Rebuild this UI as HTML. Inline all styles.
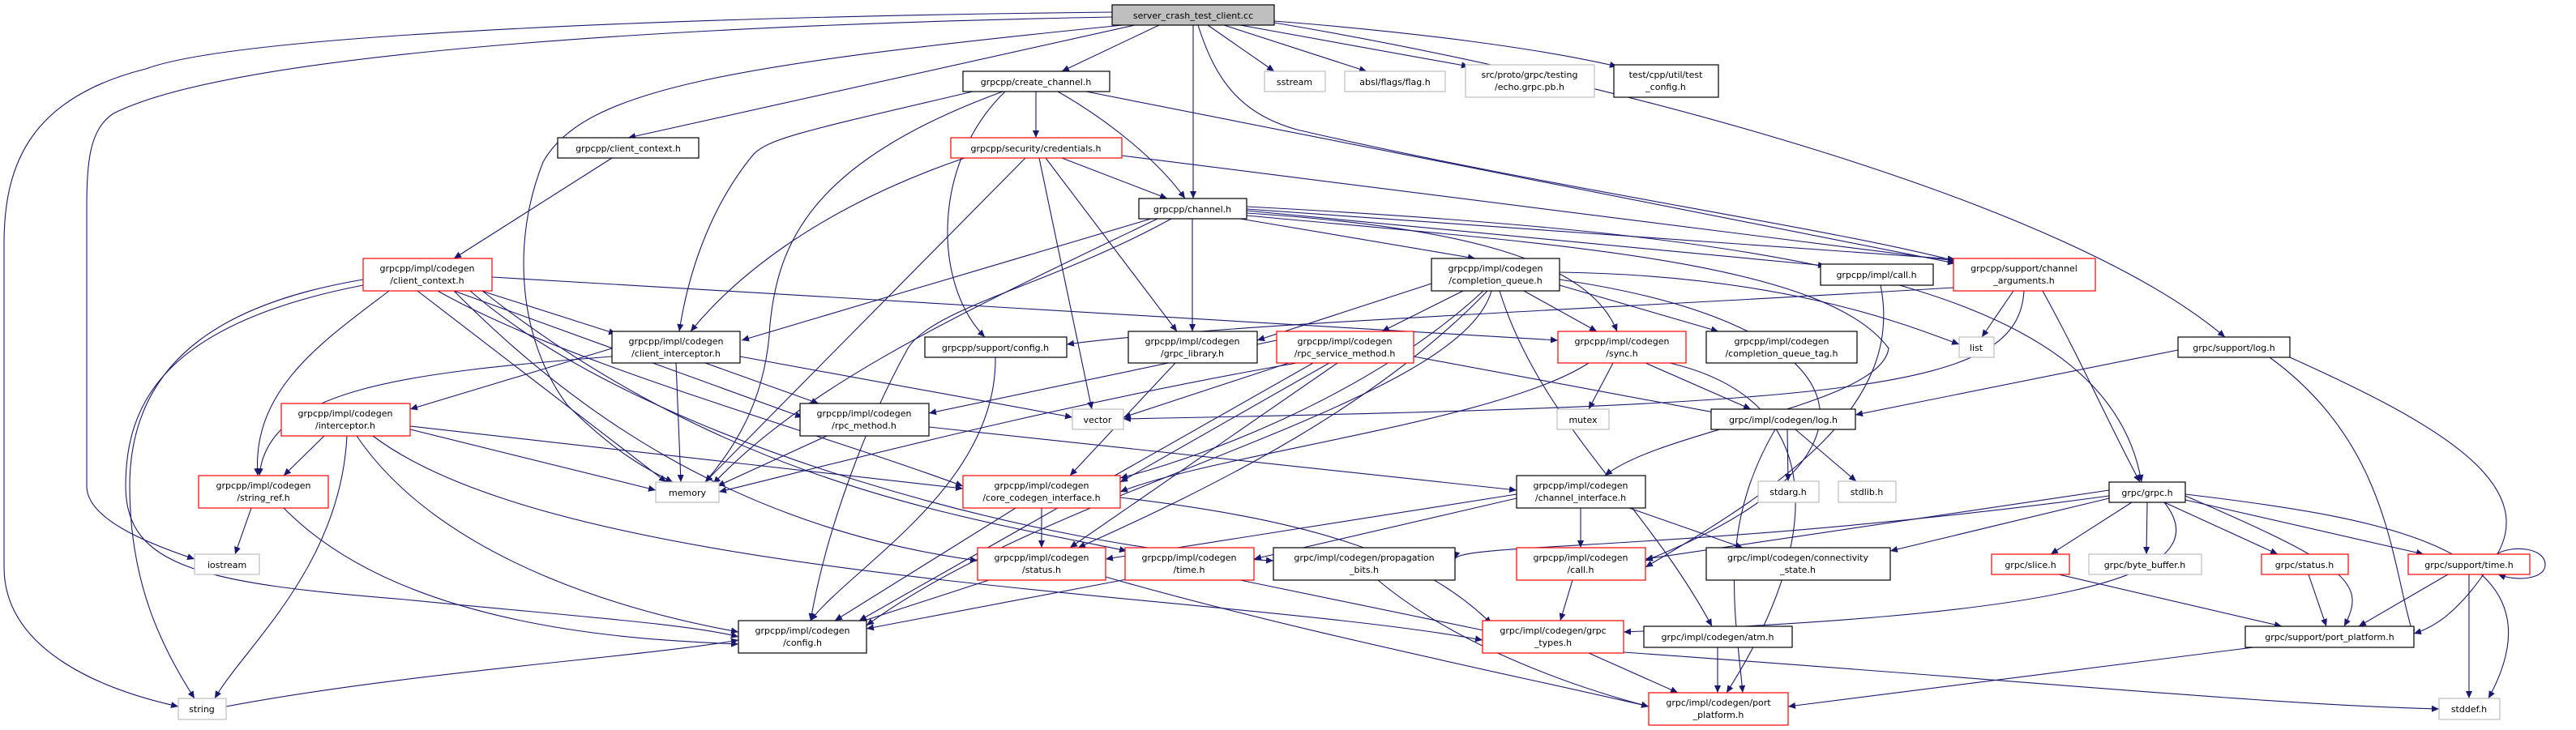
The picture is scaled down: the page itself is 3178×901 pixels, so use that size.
<!DOCTYPE html>
<html><head><meta charset="utf-8"><style>
html,body{margin:0;padding:0;background:#fff;}
svg{display:block;}
text{font-family:"DejaVu Sans","Liberation Sans",sans-serif;font-size:11px;fill:#000;text-anchor:middle;}
.e{fill:none;stroke:#191970;stroke-width:1.1;marker-end:url(#a);}
.nb{fill:#fff;stroke:#000;stroke-width:1.2;}
.nr{fill:#fff;stroke:#ff0000;stroke-width:1.2;}
.ng{fill:#fff;stroke:#bfbfbf;stroke-width:1.2;}
.nm{fill:#bfbfbf;stroke:#000;stroke-width:1.2;}
</style></head><body>
<svg width="3178" height="901" viewBox="0 0 3178 901" xmlns="http://www.w3.org/2000/svg">
<defs><marker id="a" viewBox="0 0 10 10" refX="10" refY="5" markerWidth="9" markerHeight="9" markerUnits="userSpaceOnUse" orient="auto"><path d="M0,0.5 L10,5 L0,9.5 z" fill="#191970"/></marker></defs>
<g>
<!-- server_crash edges -->
<path class="e" d="M1372,15 C900,20 300,40 180,85 C40,120 5,200 5,300 L5,700 C5,800 120,850 220,872"/>
<path class="e" d="M1372,21 C900,30 300,60 140,140 C110,160 107,200 107,260 L107,600 C107,640 180,670 240,690"/>
<path class="e" d="M1385,31 C900,80 720,110 670,200 C630,300 640,420 700,500 C760,560 800,580 830,595"/>
<path class="e" d="M1400,31 L775,170"/>
<path class="e" d="M1430,31 L1310,88"/>
<path class="e" d="M1472,31 L1472,245"/>
<path class="e" d="M1490,31 L1572,88"/>
<path class="e" d="M1510,31 L1686,88"/>
<path class="e" d="M1530,31 L1812,82"/>
<path class="e" d="M1572,26 C1750,40 1900,60 1995,82"/>
<path class="e" d="M1478,31 C1500,100 1530,140 1600,160 C1900,230 2250,280 2412,322"/>
<path class="e" d="M1572,28 C2000,100 2550,250 2745,416"/>
<!-- create_channel -->
<path class="e" d="M1278,113 L1278,170"/>
<path class="e" d="M1305,113 C1370,150 1430,200 1462,245"/>
<path class="e" d="M1200,113 C1000,160 950,170 930,190 C880,250 850,330 838,409"/>
<path class="e" d="M1237,113 C1000,200 960,300 950,400 C945,500 900,560 870,595"/>
<path class="e" d="M1240,113 C1150,200 1150,350 1215,416"/>
<path class="e" d="M1340,113 L2412,325"/>
<!-- credentials -->
<path class="e" d="M1310,195 L1440,245"/>
<path class="e" d="M1190,195 C1000,260 900,350 852,409"/>
<path class="e" d="M1265,195 L870,595"/>
<path class="e" d="M1290,195 L1452,409"/>
<path class="e" d="M1282,195 L1347,505"/>
<path class="e" d="M1384,192 L2412,322"/>
<!-- channel.h -->
<path class="e" d="M1420,270 L915,420"/>
<path class="e" d="M1428,270 C1200,380 1000,470 880,597"/>
<path class="e" d="M1445,270 C1300,350 1150,380 1120,430 C1070,520 1020,650 1000,766"/>
<path class="e" d="M1471,270 L1471,409"/>
<path class="e" d="M1530,270 L1820,319"/>
<path class="e" d="M1538,263 C1800,280 1960,320 1995,409"/>
<path class="e" d="M1538,260 L2252,328"/>
<path class="e" d="M1538,258 L2412,320"/>
<path class="e" d="M1538,255 C2200,290 2600,350 2642,595"/>
<path class="e" d="M1538,266 C1900,300 2250,320 2330,430 C2320,500 2050,530 1980,587"/>
<!-- client_context -->
<path class="e" d="M755,195 L560,319"/>
<!-- impl client_context -->
<path class="e" d="M594,359 L760,412"/>
<path class="e" d="M560,359 L990,515"/>
<path class="e" d="M480,359 C400,420 310,480 318,587"/>
<path class="e" d="M448,345 C300,370 160,430 160,600 C160,720 200,800 240,862"/>
<path class="e" d="M448,352 C200,400 155,500 155,600 C155,700 250,720 500,740 C700,760 850,770 911,786"/>
<path class="e" d="M515,359 L822,595"/>
<path class="e" d="M540,359 C700,450 1000,530 1188,600"/>
<path class="e" d="M560,359 C700,500 900,650 1206,692"/>
<path class="e" d="M580,359 C800,550 1300,680 1571,692"/>
<path class="e" d="M595,359 C900,600 1200,640 1390,680"/>
<path class="e" d="M607,342 L1922,420"/>
<!-- client_interceptor -->
<path class="e" d="M755,430 L506,505"/>
<path class="e" d="M870,448 L1010,498"/>
<path class="e" d="M834,448 L840,595"/>
<path class="e" d="M913,440 L1323,515"/>
<path class="e" d="M755,440 C500,460 330,480 320,587"/>
<!-- interceptor -->
<path class="e" d="M400,538 L350,587"/>
<path class="e" d="M506,530 L809,605"/>
<path class="e" d="M506,526 L1188,603"/>
<path class="e" d="M428,538 C420,700 300,800 265,862"/>
<path class="e" d="M440,538 C550,700 800,760 911,780"/>
<path class="e" d="M460,538 C700,720 1500,730 1829,790"/>
<!-- string_ref -->
<path class="e" d="M310,627 L290,684"/>
<path class="e" d="M350,627 C500,780 800,790 911,795"/>
<!-- rpc_method -->
<path class="e" d="M1020,538 L885,600"/>
<path class="e" d="M1146,527 L1871,605"/>
<!-- core codegen -->
<path class="e" d="M1285,627 L1285,676"/>
<path class="e" d="M1253,627 L1030,766"/>
<path class="e" d="M1382,614 C1600,640 1750,680 1840,770"/>
<!-- status/time -->
<path class="e" d="M1220,716 L1060,768"/>
<path class="e" d="M1364,712 C1600,780 1900,840 2034,872"/>
<path class="e" d="M1390,715 L1069,776"/>
<path class="e" d="M1530,716 L1840,780"/>
<path class="e" d="M279,872 C500,830 800,810 911,790"/>
<!-- completion_queue -->
<path class="e" d="M1805,359 L1705,409"/>
<path class="e" d="M1766,350 L1551,420"/>
<path class="e" d="M1880,359 L1970,409"/>
<path class="e" d="M1924,352 L2120,409"/>
<path class="e" d="M1924,336 C2200,340 2350,400 2417,425"/>
<path class="e" d="M1830,359 C1700,480 1500,560 1382,590"/>
<path class="e" d="M1835,359 C1700,500 1500,600 1330,676"/>
<path class="e" d="M1840,359 C1800,500 1300,600 1069,772"/>
<path class="e" d="M1850,359 C1900,520 2030,620 2112,773"/>
<path class="e" d="M1924,345 C2300,400 2360,560 2030,692"/>
<!-- rpc_service_method -->
<path class="e" d="M1575,420 L1146,510"/>
<path class="e" d="M1590,448 L1386,515"/>
<path class="e" d="M1600,448 C1300,500 1000,580 887,607"/>
<path class="e" d="M1620,448 L1060,766"/>
<path class="e" d="M1650,448 L1320,676"/>
<path class="e" d="M1744,440 L2120,510"/>
<path class="e" d="M1640,448 L1382,595"/>
<!-- sync -->
<path class="e" d="M1990,448 L1960,505"/>
<path class="e" d="M2030,448 L2160,505"/>
<path class="e" d="M1960,448 C1850,520 1500,560 1382,607"/>
<path class="e" d="M2060,448 C2280,500 2230,700 2130,855"/>
<!-- misc -->
<path class="e" d="M1450,448 L1320,587"/>
<path class="e" d="M1228,441 C1230,600 1050,700 1000,766"/>
<path class="e" d="M2320,352 C2350,500 2200,600 2030,700"/>
<path class="e" d="M2484,359 L2445,416"/>
<path class="e" d="M2497,359 C2490,480 2300,500 1386,517"/>
<path class="e" d="M2410,355 C2000,380 1500,400 1316,425"/>
<path class="e" d="M2520,359 C2570,450 2600,520 2640,595"/>
<path class="e" d="M2687,432 L2289,512"/>
<path class="e" d="M2800,441 C2950,550 2950,700 2978,786"/>
<path class="e" d="M2205,530 L2206,594"/>
<path class="e" d="M2215,530 L2290,594"/>
<path class="e" d="M2190,530 C2120,650 2140,750 2150,855"/>
<path class="e" d="M1871,610 L1364,690"/>
<path class="e" d="M1871,615 L1547,690"/>
<path class="e" d="M1950,627 L1950,676"/>
<path class="e" d="M2010,627 L2150,676"/>
<path class="e" d="M1940,716 L1925,766"/>
<path class="e" d="M1700,716 C1800,800 1950,850 2034,872"/>
<path class="e" d="M1960,806 L2070,855"/>
<path class="e" d="M2003,805 C2500,840 2800,870 3009,875"/>
<path class="e" d="M2119,799 L2119,855"/>
<!-- grpc.h -->
<path class="e" d="M2630,620 L2530,684"/>
<path class="e" d="M2649,620 L2648,684"/>
<path class="e" d="M2670,620 L2810,684"/>
<path class="e" d="M2696,617 L2990,684"/>
<path class="e" d="M2696,612 C2900,700 2920,720 2892,773"/>
<path class="e" d="M2696,610 C2950,640 3170,680 3070,862"/>
<path class="e" d="M2670,620 C2750,720 2500,760 2003,780"/>
<path class="e" d="M2602,615 L2332,680"/>
<path class="e" d="M2602,605 L2030,690"/>
<path class="e" d="M2602,612 C2100,680 1800,670 1795,690"/>
<path class="e" d="M2540,709 L2815,773"/>
<path class="e" d="M2848,709 L2870,773"/>
<path class="e" d="M3020,709 L2910,773"/>
<path class="e" d="M3046,709 L3046,862"/>
<path class="e" d="M3080,684 C3100,672 3140,676 3140,697 C3140,715 3105,718 3082,709"/>
<path class="e" d="M2780,799 L2206,872"/>
<path class="e" d="M2825,441 C3000,520 3150,600 3070,700 C3030,760 3000,775 2978,782"/>
</g>
<g>
<rect class="nm" x="1372" y="6" width="200" height="25"/><text x="1472" y="23">server_crash_test_client.cc</text>
<rect class="nb" x="1188" y="88" width="181" height="25"/><text x="1278" y="105">grpcpp/create_channel.h</text>
<rect class="ng" x="1560" y="88" width="75" height="25"/><text x="1597" y="105">sstream</text>
<rect class="ng" x="1659" y="88" width="124" height="25"/><text x="1721" y="105">absl/flags/flag.h</text>
<rect class="ng" x="1808" y="80" width="159" height="40"/><text x="1887" y="96">src/proto/grpc/testing</text><text x="1887" y="111">/echo.grpc.pb.h</text>
<rect class="nb" x="1991" y="80" width="129" height="40"/><text x="2055" y="96">test/cpp/util/test</text><text x="2055" y="111">_config.h</text>
<rect class="nb" x="688" y="170" width="174" height="25"/><text x="775" y="187">grpcpp/client_context.h</text>
<rect class="nr" x="1173" y="170" width="211" height="25"/><text x="1278" y="187">grpcpp/security/credentials.h</text>
<rect class="nb" x="1405" y="245" width="133" height="25"/><text x="1471" y="262">grpcpp/channel.h</text>
<rect class="nr" x="448" y="319" width="159" height="40"/><text x="527" y="335">grpcpp/impl/codegen</text><text x="527" y="350">/client_context.h</text>
<rect class="nb" x="1766" y="319" width="158" height="40"/><text x="1845" y="335">grpcpp/impl/codegen</text><text x="1845" y="350">/completion_queue.h</text>
<rect class="nb" x="2246" y="326" width="139" height="26"/><text x="2315" y="343">grpcpp/impl/call.h</text>
<rect class="nr" x="2410" y="319" width="175" height="40"/><text x="2497" y="335">grpcpp/support/channel</text><text x="2497" y="350">_arguments.h</text>
<rect class="nb" x="755" y="409" width="158" height="39"/><text x="834" y="425">grpcpp/impl/codegen</text><text x="834" y="440">/client_interceptor.h</text>
<rect class="nb" x="1141" y="416" width="175" height="25"/><text x="1228" y="433">grpcpp/support/config.h</text>
<rect class="nb" x="1392" y="409" width="159" height="39"/><text x="1471" y="425">grpcpp/impl/codegen</text><text x="1471" y="440">/grpc_library.h</text>
<rect class="nr" x="1575" y="409" width="169" height="39"/><text x="1659" y="425">grpcpp/impl/codegen</text><text x="1659" y="440">/rpc_service_method.h</text>
<rect class="nr" x="1922" y="409" width="158" height="39"/><text x="2001" y="425">grpcpp/impl/codegen</text><text x="2001" y="440">/sync.h</text>
<rect class="nb" x="2105" y="409" width="186" height="39"/><text x="2198" y="425">grpcpp/impl/codegen</text><text x="2198" y="440">/completion_queue_tag.h</text>
<rect class="ng" x="2417" y="416" width="43" height="25"/><text x="2438" y="433">list</text>
<rect class="nb" x="2687" y="416" width="138" height="25"/><text x="2756" y="433">grpc/support/log.h</text>
<rect class="nr" x="347" y="498" width="159" height="40"/><text x="426" y="514">grpcpp/impl/codegen</text><text x="426" y="529">/interceptor.h</text>
<rect class="nb" x="987" y="498" width="159" height="40"/><text x="1066" y="514">grpcpp/impl/codegen</text><text x="1066" y="529">/rpc_method.h</text>
<rect class="ng" x="1323" y="505" width="63" height="25"/><text x="1354" y="522">vector</text>
<rect class="ng" x="1921" y="505" width="64" height="25"/><text x="1953" y="522">mutex</text>
<rect class="nb" x="2111" y="505" width="178" height="25"/><text x="2200" y="522">grpc/impl/codegen/log.h</text>
<rect class="nr" x="245" y="587" width="160" height="40"/><text x="325" y="603">grpcpp/impl/codegen</text><text x="325" y="618">/string_ref.h</text>
<rect class="ng" x="809" y="595" width="78" height="25"/><text x="848" y="612">memory</text>
<rect class="nr" x="1188" y="587" width="194" height="40"/><text x="1285" y="603">grpcpp/impl/codegen</text><text x="1285" y="618">/core_codegen_interface.h</text>
<rect class="nb" x="1871" y="587" width="159" height="40"/><text x="1950" y="603">grpcpp/impl/codegen</text><text x="1950" y="618">/channel_interface.h</text>
<rect class="ng" x="2169" y="594" width="75" height="26"/><text x="2206" y="611">stdarg.h</text>
<rect class="ng" x="2268" y="594" width="71" height="26"/><text x="2303" y="611">stdlib.h</text>
<rect class="nb" x="2602" y="595" width="94" height="25"/><text x="2649" y="612">grpc/grpc.h</text>
<rect class="ng" x="240" y="684" width="80" height="25"/><text x="280" y="701">iostream</text>
<rect class="nr" x="1206" y="676" width="158" height="40"/><text x="1285" y="692">grpcpp/impl/codegen</text><text x="1285" y="707">/status.h</text>
<rect class="nr" x="1388" y="676" width="159" height="40"/><text x="1467" y="692">grpcpp/impl/codegen</text><text x="1467" y="707">/time.h</text>
<rect class="nb" x="1571" y="676" width="224" height="40"/><text x="1683" y="692">grpc/impl/codegen/propagation</text><text x="1683" y="707">_bits.h</text>
<rect class="nr" x="1871" y="676" width="159" height="40"/><text x="1950" y="692">grpcpp/impl/codegen</text><text x="1950" y="707">/call.h</text>
<rect class="nb" x="2105" y="676" width="227" height="40"/><text x="2218" y="692">grpc/impl/codegen/connectivity</text><text x="2218" y="707">_state.h</text>
<rect class="nr" x="2457" y="684" width="96" height="25"/><text x="2505" y="701">grpc/slice.h</text>
<rect class="ng" x="2577" y="684" width="139" height="25"/><text x="2646" y="701">grpc/byte_buffer.h</text>
<rect class="nr" x="2790" y="684" width="107" height="25"/><text x="2843" y="701">grpc/status.h</text>
<rect class="nr" x="2971" y="684" width="150" height="25"/><text x="3046" y="701">grpc/support/time.h</text>
<rect class="nb" x="911" y="766" width="158" height="40"/><text x="990" y="782">grpcpp/impl/codegen</text><text x="990" y="797">/config.h</text>
<rect class="nr" x="1829" y="766" width="174" height="40"/><text x="1916" y="782">grpc/impl/codegen/grpc</text><text x="1916" y="797">_types.h</text>
<rect class="nb" x="2028" y="773" width="183" height="26"/><text x="2119" y="790">grpc/impl/codegen/atm.h</text>
<rect class="nb" x="2770" y="773" width="208" height="26"/><text x="2874" y="790">grpc/support/port_platform.h</text>
<rect class="ng" x="220" y="862" width="59" height="26"/><text x="249" y="879">string</text>
<rect class="nr" x="2034" y="855" width="172" height="40"/><text x="2120" y="871">grpc/impl/codegen/port</text><text x="2120" y="886">_platform.h</text>
<rect class="ng" x="3009" y="862" width="75" height="26"/><text x="3046" y="879">stddef.h</text>
</g>
</svg>
</body></html>
